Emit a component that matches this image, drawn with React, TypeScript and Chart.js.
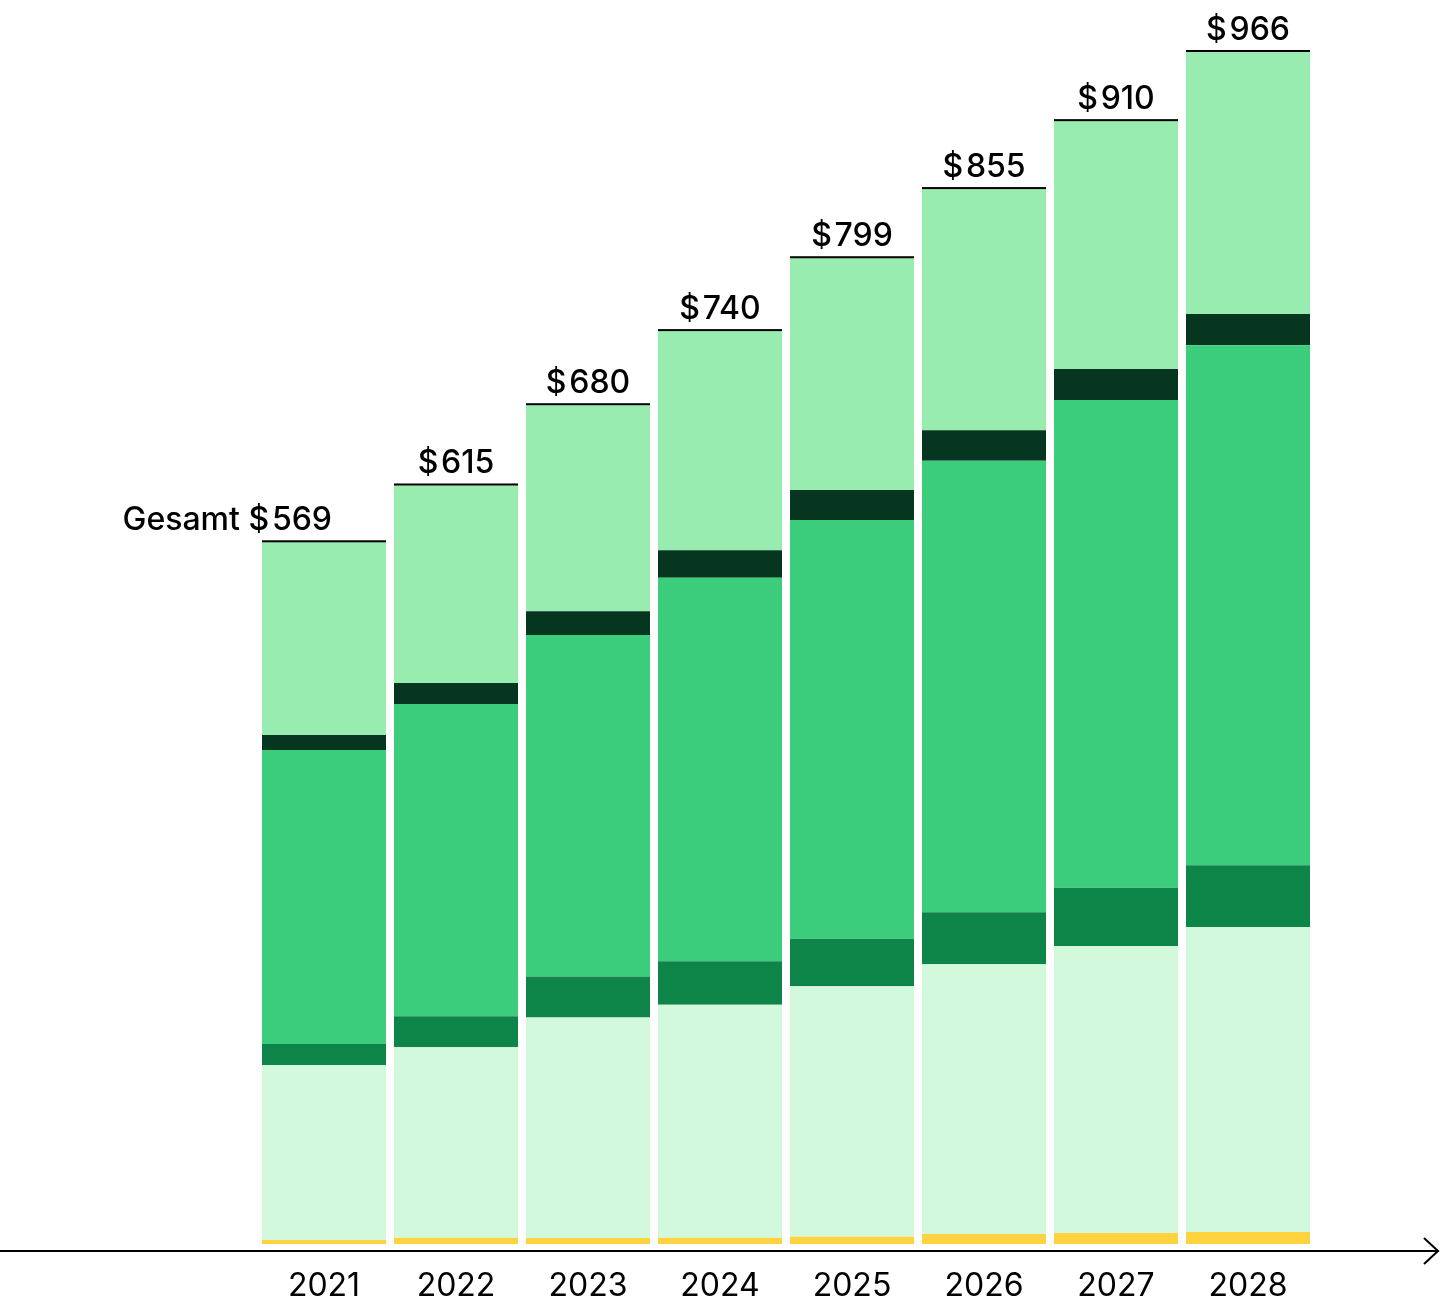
import React, { useEffect, useRef } from "react";
import { Chart, registerables } from "chart.js";

Chart.register(...registerables);

const years = ["2021", "2022", "2023", "2024", "2025", "2026", "2027", "2028"];
const totals = [569, 615, 680, 740, 799, 855, 910, 966];

const seriesYellow = [3.2, 5.1, 4.9, 5.1, 5.9, 8.1, 8.9, 9.7];
const seriesPale = [141.7, 154.2, 178.4, 188.7, 202.8, 218.4, 232.4, 247.0];
const seriesForest = [17.0, 25.1, 33.2, 35.1, 38.5, 42.1, 47.2, 50.0];
const seriesGreen = [238.1, 252.9, 276.7, 310.6, 339.0, 365.7, 394.9, 421.1];
const seriesDark = [12.1, 17.0, 19.2, 22.2, 24.3, 24.6, 25.1, 25.3];
const seriesLight = [156.9, 160.7, 167.6, 178.3, 188.5, 196.1, 201.5, 212.9];

const FONT = "Inter, 'Noto Sans', sans-serif";

const overlayPlugin = {
  id: "overlay",
  afterDatasetsDraw(chart: any) {
    const ctx = chart.ctx as CanvasRenderingContext2D;
    const area = chart.chartArea;
    const lastIdx = chart.data.datasets.length - 1;
    const meta = chart.getDatasetMeta(lastIdx);
    ctx.save();
    meta.data.forEach((bar: any, i: number) => {
      const { x, y, width } = bar.getProps(["x", "y", "width"], true);
      ctx.fillStyle = "#000000";
      ctx.fillRect(x - width / 2, y - 1, width, 2);
      ctx.font = `500 32px ${FONT}`;
      ctx.textBaseline = "alphabetic";
      const label = "$\u200A" + totals[i];
      if (i === 0) {
        ctx.textAlign = "right";
        ctx.fillText("Gesamt " + label, x + 8, y - 11);
      } else {
        ctx.textAlign = "center";
        ctx.fillText(label, x, y - 11);
      }
    });
    // x axis line with arrow
    const yAxis = area.bottom + 7;
    const w = chart.width;
    ctx.strokeStyle = "#000000";
    ctx.lineWidth = 2;
    ctx.beginPath();
    ctx.moveTo(0, yAxis);
    ctx.lineTo(w - 2, yAxis);
    ctx.stroke();
    ctx.beginPath();
    ctx.moveTo(w - 17, yAxis - 13);
    ctx.lineTo(w - 3, yAxis);
    ctx.lineTo(w - 17, yAxis + 13);
    ctx.stroke();
    ctx.restore();
  },
};

export default function App() {
  const ref = useRef<HTMLCanvasElement | null>(null);
  useEffect(() => {
    if (!ref.current) return;
    const mk = (label: string, data: number[], color: string) => ({
      label,
      data,
      backgroundColor: color,
      borderWidth: 0,
      stack: "s",
    });
    const chart = new Chart(ref.current, {
      type: "bar",
      data: {
        labels: years,
        datasets: [
          mk("Gelb", seriesYellow, "#FFD23F"),
          mk("Hellgrün blass", seriesPale, "#D3F9DC"),
          mk("Waldgrün", seriesForest, "#0E8548"),
          mk("Grün", seriesGreen, "#3BCD7B"),
          mk("Dunkelgrün", seriesDark, "#073620"),
          mk("Hellgrün", seriesLight, "#98ECAF"),
        ],
      },
      options: {
        animation: false,
        responsive: false,
        devicePixelRatio: 1,
        layout: { padding: { left: 258, right: 127, top: 9, bottom: 0 } },
        plugins: { legend: { display: false }, tooltip: { enabled: false } },
        datasets: { bar: { categoryPercentage: 1, barPercentage: 124 / 132 } },
        scales: {
          x: {
            stacked: true,
            grid: { display: false, drawTicks: false },
            border: { display: false },
            ticks: { color: "#000000", font: { family: FONT, size: 32, weight: 400 }, padding: 23 },
            afterFit: (s: any) => {
              s.height = 68;
            },
          },
          y: { stacked: true, display: false, min: 0, max: 1000 },
        },
      },
      plugins: [overlayPlugin],
    });
    return () => chart.destroy();
  }, []);
  return (
    <div style={{ position: "absolute", left: 0, top: 0, width: 1441, height: 1312, background: "#ffffff" }}>
      <canvas ref={ref} width={1441} height={1312} style={{ display: "block" }} />
    </div>
  );
}
